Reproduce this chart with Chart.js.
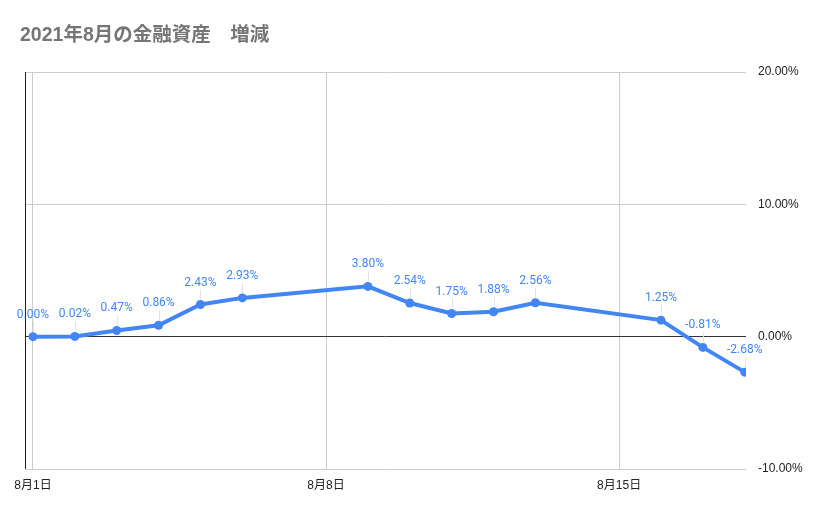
<!doctype html>
<html lang="ja">
<head>
  <meta charset="utf-8">
  <title>2021年8月の金融資産　増減</title>
  <script src="https://cdn.jsdelivr.net/npm/chart.js@4.4.1/dist/chart.umd.min.js"></script>
  <style>
    html, body { margin: 0; padding: 0; background: #fff; }
  </style>
</head>
<body>
  <canvas id="myChart" width="829" height="514"></canvas>

  <script>
    // chart data
    var chartTitle = '2021年8月の金融資産　増減';
    var days = [1, 2, 3, 4, 5, 6, 9, 10, 11, 12, 13, 16, 17, 18];
    var changes = [0.00, 0.02, 0.47, 0.86, 2.43, 2.93, 3.80, 2.54, 1.75, 1.88, 2.56, 1.25, -0.81, -2.68];
    var xTickDays = [1, 8, 15];
    var yTickValues = [-10, 0, 10, 20];

    var blue = '#4285F4';
    var axisFont = '"Liberation Sans", Arial, "Noto Sans CJK JP", sans-serif';

    function pct(v) { return v.toFixed(2) + '%'; }

    // title in the top left corner
    var titlePlugin = {
      id: 'sheetTitle',
      afterDraw: function(chart) {
        var ctx = chart.ctx;
        ctx.save();
        ctx.font = 'bold 19.5px "Liberation Sans", Arial, "Noto Sans CJK JP", sans-serif';
        ctx.fillStyle = '#757575';
        ctx.textBaseline = 'middle';
        ctx.textAlign = 'left';
        ctx.fillText(chartTitle, 20, 36);
        ctx.restore();
      }
    };

    // black line down the left side of the plot
    var leftAxisPlugin = {
      id: 'leftAxis',
      beforeDatasetsDraw: function(chart) {
        var a = chart.chartArea, ctx = chart.ctx;
        ctx.save();
        ctx.strokeStyle = '#222';
        ctx.lineWidth = 1;
        ctx.beginPath();
        ctx.moveTo(Math.round(a.left) + 0.5, a.top);
        ctx.lineTo(Math.round(a.left) + 0.5, a.bottom);
        ctx.stroke();
        ctx.restore();
      }
    };

    // value labels above the points, with a faint leader line
    var labelPlugin = {
      id: 'pointLabels',
      afterDatasetsDraw: function(chart) {
        var ctx = chart.ctx;
        var meta = chart.getDatasetMeta(0);
        ctx.save();
        ctx.font = '12px Roboto, "Liberation Sans", sans-serif';
        ctx.textAlign = 'center';
        ctx.textBaseline = 'middle';
        meta.data.forEach(function(pt, i) {
          ctx.strokeStyle = '#e3e3e3';
          ctx.lineWidth = 1;
          ctx.beginPath();
          ctx.moveTo(Math.round(pt.x) + 0.5, pt.y - 15);
          ctx.lineTo(Math.round(pt.x) + 0.5, pt.y - 5);
          ctx.stroke();
          ctx.fillStyle = blue;
          ctx.fillText(pct(changes[i]), pt.x, pt.y - 22);
        });
        ctx.restore();
      }
    };

    var ctx = document.getElementById('myChart').getContext('2d');
    var myChart = new Chart(ctx, {
      type: 'line',
      data: {
        datasets: [{
          label: '増減',
          data: days.map(function(d, i) { return { x: d, y: changes[i] }; }),
          borderColor: blue,
          backgroundColor: blue,
          borderWidth: 4,
          pointRadius: 4.5,
          pointBorderWidth: 0,
          tension: 0
        }]
      },
      options: {
        responsive: false,
        animation: false,
        layout: { padding: { top: 72, left: 25, right: 0, bottom: 0 } },
        plugins: {
          legend: { display: false },
          title: { display: false },
          tooltip: { enabled: false }
        },
        scales: {
          x: {
            type: 'linear',
            min: 0.81,
            max: 18.03,
            afterBuildTicks: function(scale) {
              scale.ticks = xTickDays.map(function(v) { return { value: v }; });
            },
            afterFit: function(scale) { scale.height = 45; },
            ticks: {
              autoSkip: false,
              maxRotation: 0,
              padding: 9,
              color: '#222',
              font: { family: axisFont, size: 12 },
              callback: function(v) { return '8月' + v + '日'; }
            },
            grid: { color: '#cccccc', drawTicks: false },
            border: { display: false }
          },
          y: {
            position: 'right',
            min: -10,
            max: 20,
            afterBuildTicks: function(scale) {
              scale.ticks = yTickValues.map(function(v) { return { value: v }; });
            },
            afterFit: function(scale) { scale.width = 83; },
            ticks: {
              padding: 12,
              color: '#222',
              font: { family: axisFont, size: 12 },
              callback: function(v) { return pct(v); }
            },
            grid: {
              drawTicks: false,
              color: function(c) { return c.tick && c.tick.value === 0 ? '#333' : '#cccccc'; }
            },
            border: { display: false }
          }
        }
      },
      plugins: [titlePlugin, leftAxisPlugin, labelPlugin]
    });
  </script>
</body>
</html>
